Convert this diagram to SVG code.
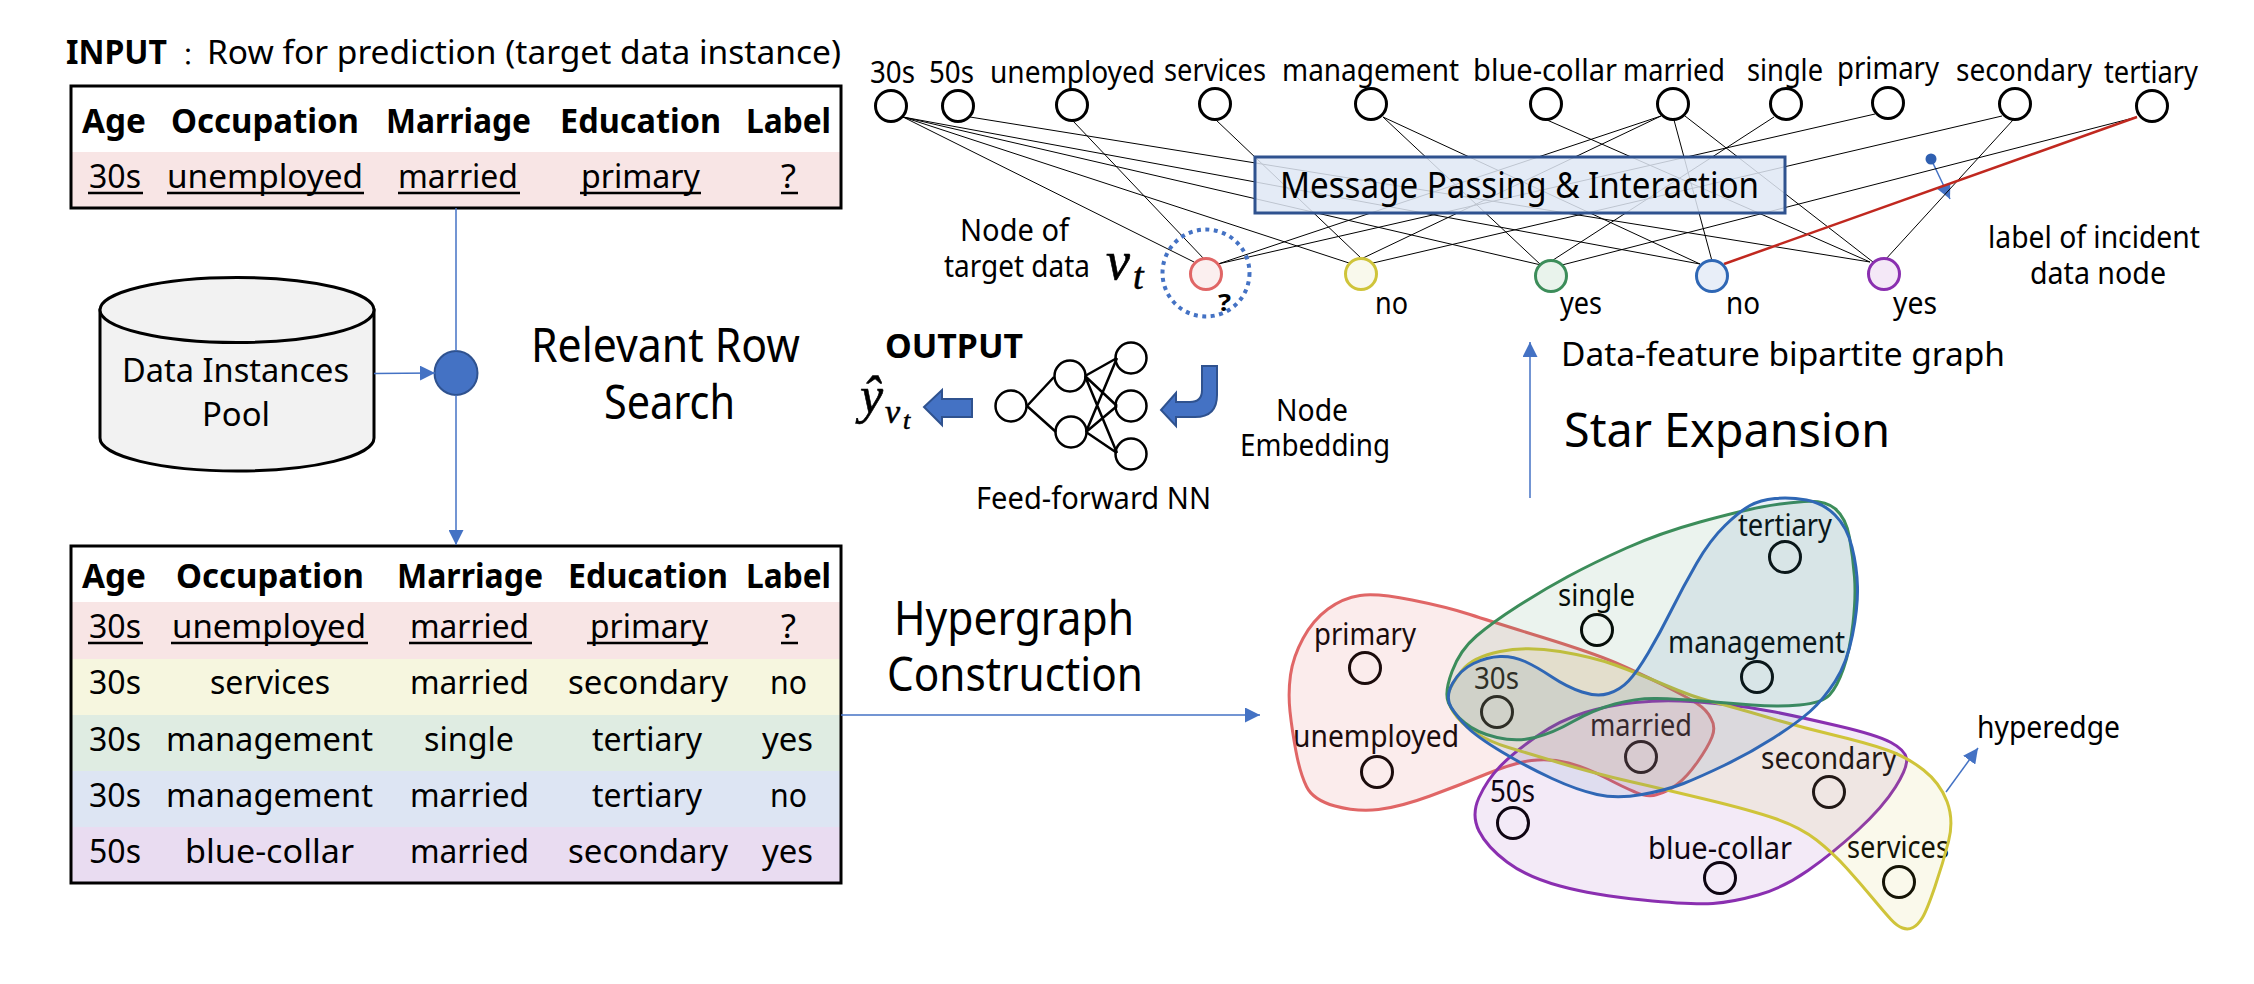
<svg xmlns="http://www.w3.org/2000/svg" width="2254" height="984" viewBox="0 0 2254 984">
<style>
text{font-family:"Noto Sans","Liberation Sans",sans-serif;fill:#000;transform:translateY(1px)}
.b{font-weight:700}
.s32{font-size:33.5px}.s30{font-size:31.5px}.s28{font-size:30px}.s44{font-size:47px}.s34{font-size:35.5px}
.m{font-family:"Liberation Serif",serif;font-style:italic;stroke:#000;stroke-width:.6}
.conn{stroke:#4472c4;stroke-width:1.5;fill:none}
.e{stroke:#000;stroke-width:1;fill:none}
.nn{stroke:#000;stroke-width:2.5;fill:none}
.n{fill:#fff;stroke:#000;stroke-width:3}
.hn{fill:none;stroke:#000;stroke-width:3}
.frame{fill:none;stroke:#000;stroke-width:3}
.ul{stroke:#000;stroke-width:2.5}
.blob{stroke-width:3}
.fat{fill:#4472c4;stroke:#2f528f;stroke-width:2}
</style>
<defs>
<marker id="arr" markerUnits="userSpaceOnUse" markerWidth="15" markerHeight="15" refX="15" refY="7.5" orient="auto"><path d="M0,0L15,7.5L0,15Z" fill="#4472c4"/></marker>
</defs>

<g id="input-title">
<text class="s32 b" x="66" y="63" textLength="101" lengthAdjust="spacingAndGlyphs">INPUT</text>
<text x="182" y="63" style="font-family:'Noto Sans CJK SC',sans-serif;font-size:24px">：</text>
<text class="s32" x="207" y="63" textLength="634" lengthAdjust="spacingAndGlyphs">Row for prediction (target data instance)</text>
</g>

<g id="input-table">
<rect x="71" y="152" width="770" height="56" fill="#f8e5e5"/>
<rect class="frame" x="71" y="86" width="770" height="122"/>
<g class="s32 b">
<text x="82" y="132" textLength="64" lengthAdjust="spacingAndGlyphs">Age</text>
<text x="171" y="132" textLength="188" lengthAdjust="spacingAndGlyphs">Occupation</text>
<text x="386" y="132" textLength="145" lengthAdjust="spacingAndGlyphs">Marriage</text>
<text x="560" y="132" textLength="161" lengthAdjust="spacingAndGlyphs">Education</text>
<text x="746" y="132" textLength="85" lengthAdjust="spacingAndGlyphs">Label</text>
</g>
<g class="s32">
<text x="89" y="187" textLength="52" lengthAdjust="spacingAndGlyphs">30s</text>
<text x="167" y="187" textLength="196" lengthAdjust="spacingAndGlyphs">unemployed</text>
<text x="398" y="187" textLength="120" lengthAdjust="spacingAndGlyphs">married</text>
<text x="581" y="187" textLength="119" lengthAdjust="spacingAndGlyphs">primary</text>
<text x="781" y="187" textLength="15" lengthAdjust="spacingAndGlyphs">?</text>
</g>
<path class="ul" d="M88,193H143M167,193H364M398,193H520M580,193H701M781,193H798"/>
</g>

<g id="pool">
<path d="M100,310V438A137,33 0 0 0 374,438V310Z" fill="#f2f2f2" stroke="#000" stroke-width="3"/>
<ellipse cx="237" cy="310" rx="137" ry="32.500" fill="#f2f2f2" stroke="#000" stroke-width="3"/>
<text class="s32" x="122" y="381" textLength="227" lengthAdjust="spacingAndGlyphs">Data Instances</text>
<text class="s32" x="202" y="425" textLength="68" lengthAdjust="spacingAndGlyphs">Pool</text>
</g>

<g id="search-node"><ellipse class="fat" cx="456" cy="373" rx="21.500" ry="22"/></g>

<g id="search-label">
<text class="s44" x="531" y="361" textLength="269" lengthAdjust="spacingAndGlyphs">Relevant Row</text>
<text class="s44" x="604" y="418" textLength="131" lengthAdjust="spacingAndGlyphs">Search</text>
</g>

<g id="retrieved-table">
<rect x="71" y="602" width="770" height="57" fill="#f8e5e5"/>
<rect x="71" y="659" width="770" height="56" fill="#f6f6df"/>
<rect x="71" y="715" width="770" height="56" fill="#dfece2"/>
<rect x="71" y="771" width="770" height="56" fill="#dde5f3"/>
<rect x="71" y="827" width="770" height="56" fill="#e9dcf1"/>
<rect class="frame" x="71" y="546" width="770" height="337"/>
<g class="s32 b">
<text x="82" y="587" textLength="64" lengthAdjust="spacingAndGlyphs">Age</text>
<text x="176" y="587" textLength="188" lengthAdjust="spacingAndGlyphs">Occupation</text>
<text x="397" y="587" textLength="146" lengthAdjust="spacingAndGlyphs">Marriage</text>
<text x="568" y="587" textLength="160" lengthAdjust="spacingAndGlyphs">Education</text>
<text x="746" y="587" textLength="85" lengthAdjust="spacingAndGlyphs">Label</text>
</g>
<g class="s32">
<text x="89" y="637" textLength="52" lengthAdjust="spacingAndGlyphs">30s</text>
<text x="172" y="637" textLength="194" lengthAdjust="spacingAndGlyphs">unemployed</text>
<text x="410" y="637" textLength="119" lengthAdjust="spacingAndGlyphs">married</text>
<text x="590" y="637" textLength="118" lengthAdjust="spacingAndGlyphs">primary</text>
<text x="781" y="637" textLength="15" lengthAdjust="spacingAndGlyphs">?</text>
<text x="89" y="693" textLength="52" lengthAdjust="spacingAndGlyphs">30s</text>
<text x="210" y="693" textLength="120" lengthAdjust="spacingAndGlyphs">services</text>
<text x="410" y="693" textLength="119" lengthAdjust="spacingAndGlyphs">married</text>
<text x="568" y="693" textLength="160" lengthAdjust="spacingAndGlyphs">secondary</text>
<text x="770" y="693" textLength="37" lengthAdjust="spacingAndGlyphs">no</text>
<text x="89" y="750" textLength="52" lengthAdjust="spacingAndGlyphs">30s</text>
<text x="166" y="750" textLength="207" lengthAdjust="spacingAndGlyphs">management</text>
<text x="424" y="750" textLength="90" lengthAdjust="spacingAndGlyphs">single</text>
<text x="592" y="750" textLength="110" lengthAdjust="spacingAndGlyphs">tertiary</text>
<text x="762" y="750" textLength="51" lengthAdjust="spacingAndGlyphs">yes</text>
<text x="89" y="806" textLength="52" lengthAdjust="spacingAndGlyphs">30s</text>
<text x="166" y="806" textLength="207" lengthAdjust="spacingAndGlyphs">management</text>
<text x="410" y="806" textLength="119" lengthAdjust="spacingAndGlyphs">married</text>
<text x="592" y="806" textLength="110" lengthAdjust="spacingAndGlyphs">tertiary</text>
<text x="770" y="806" textLength="37" lengthAdjust="spacingAndGlyphs">no</text>
<text x="89" y="862" textLength="52" lengthAdjust="spacingAndGlyphs">50s</text>
<text x="185" y="862" textLength="169" lengthAdjust="spacingAndGlyphs">blue-collar</text>
<text x="410" y="862" textLength="119" lengthAdjust="spacingAndGlyphs">married</text>
<text x="568" y="862" textLength="160" lengthAdjust="spacingAndGlyphs">secondary</text>
<text x="762" y="862" textLength="51" lengthAdjust="spacingAndGlyphs">yes</text>
</g>
<path class="ul" d="M88,643H143M171,643H368M409,643H532M587,643H708M781,643H798"/>
</g>

<g id="hypergraph-label">
<text class="s44" x="894" y="634" textLength="240" lengthAdjust="spacingAndGlyphs">Hypergraph</text>
<text class="s44" x="887" y="690" textLength="256" lengthAdjust="spacingAndGlyphs">Construction</text>
</g>

<g id="connectors">
<path class="conn" d="M456,208V351"/>
<path class="conn" d="M456,395V545" marker-end="url(#arr)"/>
<path class="conn" d="M374,373.500L435,373" stroke-width="2" marker-end="url(#arr)"/>
<path class="conn" d="M841,715H1260" marker-end="url(#arr)"/>
<path class="conn" d="M1530,498V342" marker-end="url(#arr)"/>
<path class="conn" d="M1946,792L1978,748" marker-end="url(#arr)"/>
<path class="conn" d="M1931,159L1950,199" stroke-width="2" marker-end="url(#arr)"/>
</g>

<g id="bipartite-edges">
<path class="e" d="M903,117L1194,262M903,117L1349,263M903,117L1541,265M903,117L1700,264"/>
<path class="e" d="M970,117L1870,262M1073,121L1205,260M1216,120L1361,258"/>
<path class="e" d="M1383,117L1541,265M1383,117L1700,264M1547,120L1870,262"/>
<path class="e" d="M1661,116L1218,264M1661,116L1361,259M1674,120L1712,261M1685,116L1873,262"/>
<path class="e" d="M1774,117L1550,262M1875,114L1218,264M2002,116L1373,263M2013,120L1885,260M2137,117L1562,265"/>
<path d="M2137,117L1724,264" stroke="#c0281f" stroke-width="2.500" fill="none"/>
</g>

<g id="message-passing">
<rect x="1255" y="157" width="530" height="56" fill="#dfe7f5" fill-opacity="0.85" stroke="#2f528f" stroke-width="3"/>
<text class="s34" x="1280" y="197" textLength="479" lengthAdjust="spacingAndGlyphs">Message Passing &amp; Interaction</text>
</g>

<g id="feature-nodes">
<g id="f-30s"><circle class="n" cx="891" cy="106" r="15.500"/><text class="s30" x="870" y="82" textLength="45" lengthAdjust="spacingAndGlyphs">30s</text></g>
<g id="f-50s"><circle class="n" cx="958" cy="106" r="15.500"/><text class="s30" x="929" y="82" textLength="45" lengthAdjust="spacingAndGlyphs">50s</text></g>
<g id="f-unemployed"><circle class="n" cx="1072" cy="105" r="15.500"/><text class="s30" x="990" y="82" textLength="165" lengthAdjust="spacingAndGlyphs">unemployed</text></g>
<g id="f-services"><circle class="n" cx="1215" cy="104" r="15.500"/><text class="s30" x="1164" y="80" textLength="102" lengthAdjust="spacingAndGlyphs">services</text></g>
<g id="f-management"><circle class="n" cx="1371" cy="104" r="15.500"/><text class="s30" x="1282" y="80" textLength="177" lengthAdjust="spacingAndGlyphs">management</text></g>
<g id="f-blue-collar"><circle class="n" cx="1546" cy="104" r="15.500"/><text class="s30" x="1473" y="80" textLength="144" lengthAdjust="spacingAndGlyphs">blue-collar</text></g>
<g id="f-married"><circle class="n" cx="1673" cy="104" r="15.500"/><text class="s30" x="1623" y="80" textLength="102" lengthAdjust="spacingAndGlyphs">married</text></g>
<g id="f-single"><circle class="n" cx="1786" cy="104" r="15.500"/><text class="s30" x="1747" y="80" textLength="76" lengthAdjust="spacingAndGlyphs">single</text></g>
<g id="f-primary"><circle class="n" cx="1888" cy="103" r="15.500"/><text class="s30" x="1837" y="78" textLength="102" lengthAdjust="spacingAndGlyphs">primary</text></g>
<g id="f-secondary"><circle class="n" cx="2015" cy="104" r="15.500"/><text class="s30" x="1956" y="80" textLength="136" lengthAdjust="spacingAndGlyphs">secondary</text></g>
<g id="f-tertiary"><circle class="n" cx="2152" cy="106" r="15.500"/><text class="s30" x="2104" y="82" textLength="94" lengthAdjust="spacingAndGlyphs">tertiary</text></g>
</g>

<g id="data-nodes">
<g id="d-target"><circle cx="1206" cy="274" r="15.500" fill="#fbefef" stroke="#e06666" stroke-width="3"/><circle cx="1206" cy="273" r="43.500" fill="none" stroke="#4472c4" stroke-width="4" stroke-dasharray="4 4.500"/><text class="b" x="1218" y="310" style="font-size:24px" textLength="13" lengthAdjust="spacingAndGlyphs">?</text></g>
<g id="d-no1"><circle cx="1361" cy="274" r="15.500" fill="#f9f9ec" stroke="#cfc43a" stroke-width="3"/><text class="s30" x="1375" y="313" textLength="33" lengthAdjust="spacingAndGlyphs">no</text></g>
<g id="d-yes1"><circle cx="1551" cy="276" r="15.500" fill="#e9f3ec" stroke="#3c8d5a" stroke-width="3"/><text class="s30" x="1560" y="313" textLength="42" lengthAdjust="spacingAndGlyphs">yes</text></g>
<g id="d-no2"><circle cx="1712" cy="276" r="15.500" fill="#e8eef8" stroke="#2f67b5" stroke-width="3"/><text class="s30" x="1726" y="313" textLength="34" lengthAdjust="spacingAndGlyphs">no</text></g>
<g id="d-yes2"><circle cx="1884" cy="274" r="15.500" fill="#f4e8f7" stroke="#8a2fb0" stroke-width="3"/><text class="s30" x="1893" y="313" textLength="44" lengthAdjust="spacingAndGlyphs">yes</text></g>
</g>

<g id="bipartite-notes">
<circle cx="1931" cy="159" r="5.500" fill="#2f5fb0"/>
<text class="s30" x="960" y="240" textLength="109" lengthAdjust="spacingAndGlyphs">Node of</text>
<text class="s30" x="944" y="276" textLength="146" lengthAdjust="spacingAndGlyphs">target data</text>
<text class="m" x="1106" y="278" style="font-size:54px">v</text>
<text class="m" x="1133" y="288" style="font-size:38px">t</text>
<text class="s30" x="1988" y="247" textLength="212" lengthAdjust="spacingAndGlyphs">label of incident</text>
<text class="s30" x="2030" y="283" textLength="136" lengthAdjust="spacingAndGlyphs">data node</text>
<text class="s32" x="1561" y="365" textLength="444" lengthAdjust="spacingAndGlyphs">Data-feature bipartite graph</text>
<text class="s44" x="1564" y="446" textLength="326" lengthAdjust="spacingAndGlyphs">Star Expansion</text>
</g>

<g id="output">
<text class="s32 b" x="885" y="357" textLength="138" lengthAdjust="spacingAndGlyphs">OUTPUT</text>
<text class="m" x="860" y="412" style="font-size:52px">ŷ</text>
<text class="m" x="885" y="422" style="font-size:34px">v</text>
<text class="m" x="903" y="428" style="font-size:26px">t</text>
<path class="fat" d="M972,399V417H942V425L924,407L942,390V399Z"/>
<path class="fat" d="M1202,366H1217V395Q1217,417 1195,417H1176V426L1161,410L1176,393V402H1190Q1202,402 1202,390Z"/>
<text class="s28" x="1276" y="420" textLength="72" lengthAdjust="spacingAndGlyphs">Node</text>
<text class="s28" x="1240" y="455" textLength="150" lengthAdjust="spacingAndGlyphs">Embedding</text>
<text class="s30" x="976" y="508" textLength="235" lengthAdjust="spacingAndGlyphs">Feed-forward NN</text>
</g>

<g id="feed-forward-nn">
<path class="nn" d="M1027,406L1054,377M1027,406L1056,432M1085,376L1117,358M1085,376L1117,406M1085,376L1117,453M1086,432L1117,358M1086,432L1117,406M1086,432L1117,453"/>
<circle class="nn" cx="1011" cy="406" r="15.500"/>
<circle class="nn" cx="1070" cy="376" r="15.500"/>
<circle class="nn" cx="1071" cy="432" r="15.500"/>
<circle class="nn" cx="1131" cy="358" r="15.500"/>
<circle class="nn" cx="1131" cy="406" r="15.500"/>
<circle class="nn" cx="1131" cy="454" r="15.500"/>
</g>

<g id="hypergraph-nodes">
<g id="h-primary"><circle class="hn" cx="1365" cy="668" r="15.500"/><text class="s30" x="1314" y="644" textLength="102" lengthAdjust="spacingAndGlyphs">primary</text></g>
<g id="h-unemployed"><circle class="hn" cx="1377" cy="772" r="15.500"/><text class="s30" x="1293" y="746" textLength="166" lengthAdjust="spacingAndGlyphs">unemployed</text></g>
<g id="h-30s"><circle class="hn" cx="1497" cy="712" r="15.500"/><text class="s30" x="1474" y="688" textLength="45" lengthAdjust="spacingAndGlyphs">30s</text></g>
<g id="h-single"><circle class="hn" cx="1597" cy="630" r="15.500"/><text class="s30" x="1558" y="605" textLength="77" lengthAdjust="spacingAndGlyphs">single</text></g>
<g id="h-married"><circle class="hn" cx="1641" cy="757" r="15.500"/><text class="s30" x="1590" y="735" textLength="102" lengthAdjust="spacingAndGlyphs">married</text></g>
<g id="h-50s"><circle class="hn" cx="1513" cy="823" r="15.500"/><text class="s30" x="1490" y="801" textLength="45" lengthAdjust="spacingAndGlyphs">50s</text></g>
<g id="h-blue-collar"><circle class="hn" cx="1720" cy="878" r="15.500"/><text class="s30" x="1648" y="858" textLength="144" lengthAdjust="spacingAndGlyphs">blue-collar</text></g>
<g id="h-management"><circle class="hn" cx="1757" cy="677" r="15.500"/><text class="s30" x="1668" y="652" textLength="177" lengthAdjust="spacingAndGlyphs">management</text></g>
<g id="h-tertiary"><circle class="hn" cx="1785" cy="557" r="15.500"/><text class="s30" x="1738" y="535" textLength="94" lengthAdjust="spacingAndGlyphs">tertiary</text></g>
<g id="h-secondary"><circle class="hn" cx="1829" cy="792" r="15.500"/><text class="s30" x="1761" y="768" textLength="136" lengthAdjust="spacingAndGlyphs">secondary</text></g>
<g id="h-services"><circle class="hn" cx="1899" cy="882" r="15.500"/><text class="s30" x="1847" y="857" textLength="102" lengthAdjust="spacingAndGlyphs">services</text></g>
<text id="hyperedge-label" class="s30" x="1977" y="737" textLength="143" lengthAdjust="spacingAndGlyphs">hyperedge</text>
</g>

<g id="hyperedges">
<path id="he-target" class="blob" fill="#e06666" fill-opacity="0.12" stroke="#e06666" d="M1360,595.500Q1377,593 1412,600Q1447,607 1470,614.500Q1493,622 1543,637.500Q1593,653 1615,662.500Q1637,672 1662,684.500Q1687,697 1697,703.500Q1707,710 1711,718.500Q1716,727 1712,737Q1708,747 1697.500,762Q1687,777 1677,784.500Q1667,792 1657,794.500Q1648,798 1635,792Q1623,787 1605,777.500Q1587,768 1568.500,763Q1550,758 1531.500,760.500Q1513,763 1486.500,774Q1460,785 1430,796Q1400,807 1378.500,809.500Q1357,812 1335,806Q1313,800 1306.500,786.500Q1300,773 1296,751.500Q1292,730 1290,711.500Q1288,693 1290.500,675Q1293,657 1303,638.500Q1313,620 1328,609Q1343,598 1360,595.500Z"/>
<path id="he-yes2" class="blob" fill="#8a2fb0" fill-opacity="0.1" stroke="#8a2fb0" d="M1479,831Q1471,815 1479,797.500Q1487,780 1500,766.500Q1513,753 1536.500,736.500Q1560,720 1585,712.500Q1610,705 1635,702.500Q1660,700 1680,701Q1700,702 1725,704.500Q1750,707 1775,712Q1800,717 1838.500,726Q1877,735 1891,742.500Q1905,750 1906.500,758.500Q1908,767 1895.500,787Q1883,807 1858,830Q1833,853 1808,870.500Q1783,888 1758,895Q1733,902 1713,903.500Q1693,905 1643,900Q1593,895 1560,886Q1527,877 1507,862Q1487,847 1479,831Z"/>
<path id="he-no1" class="blob" fill="#cfc43a" fill-opacity="0.1" stroke="#cfc43a" d="M1449,691.500Q1452,683 1462.500,670Q1473,657 1500,651.500Q1527,646 1560,651.500Q1593,657 1615,665Q1637,673 1665,685Q1693,697 1713,702Q1733,707 1766.500,717Q1800,727 1833.500,735Q1867,743 1887,750Q1907,757 1923.500,770Q1940,783 1947,801.500Q1954,820 1948.500,841.500Q1943,863 1935,886.500Q1927,910 1922.500,917.500Q1918,925 1913,927.500Q1908,930 1902.500,928Q1897,926 1891,919.500Q1885,913 1872.500,898Q1860,883 1846.500,868Q1833,853 1816.500,840Q1800,827 1775,818.500Q1750,810 1708.500,800Q1667,790 1630,781.500Q1593,773 1560,763Q1527,753 1508.500,747.500Q1490,742 1475,732.500Q1460,723 1453,711.500Q1446,700 1449,691.500Z"/>
<path id="he-yes1" class="blob" fill="#3c8d5a" fill-opacity="0.1" stroke="#3c8d5a" d="M1448.500,703Q1444,693 1452,671.500Q1460,650 1476.500,636Q1493,622 1518,606Q1543,590 1568,576.500Q1593,563 1626.500,548Q1660,533 1700,522Q1740,511 1761.500,507Q1783,503 1804,501.500Q1825,500 1835.500,509Q1846,518 1849.500,537.500Q1853,557 1854.500,577Q1856,597 1853,623.500Q1850,650 1843.500,668.500Q1837,687 1829.500,695Q1822,703 1799.500,705Q1777,707 1752,705Q1727,703 1702,701Q1677,699 1657,698.500Q1637,698 1615,704Q1593,710 1573,721.500Q1553,733 1535,737.500Q1517,742 1497,737.500Q1477,733 1465,723Q1453,713 1448.500,703Z"/>
<path id="he-no2" class="blob" fill="#2f67b5" fill-opacity="0.1" stroke="#2f67b5" d="M1451,707Q1445,697 1452.500,683.500Q1460,670 1473.500,663.500Q1487,657 1500,656.500Q1513,656 1525,661.500Q1537,667 1552,677Q1567,687 1582,692Q1597,697 1608.500,693.500Q1620,690 1628.500,681Q1637,672 1648.500,652.500Q1660,633 1671.500,610Q1683,587 1696.500,563.500Q1710,540 1725,525.500Q1740,511 1750,505.500Q1760,500 1775,498.500Q1790,497 1806.500,500Q1823,503 1835,515Q1847,527 1852,547Q1857,567 1857.500,587Q1858,607 1852.500,635Q1847,663 1835,681.500Q1823,700 1810,711.500Q1797,723 1773.500,738Q1750,753 1725,765Q1700,777 1683.500,783.500Q1667,790 1642,794.500Q1617,799 1597,794.500Q1577,790 1552,778.500Q1527,767 1502,752Q1477,737 1467,727Q1457,717 1451,707Z"/>
</g>
</svg>
